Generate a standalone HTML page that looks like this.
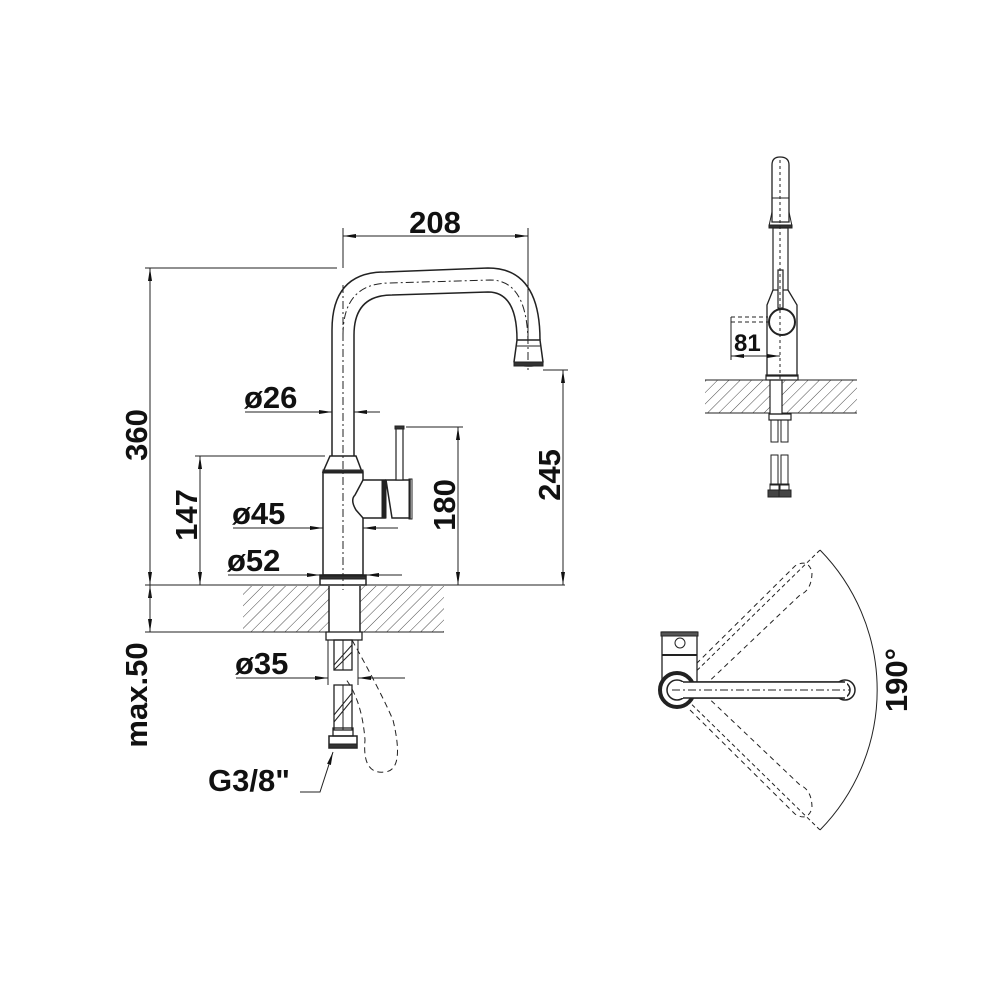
<!DOCTYPE html>
<html><head><meta charset="utf-8"><style>
html,body{margin:0;padding:0;background:#fff}
svg{display:block}
text{font-family:"Liberation Sans",sans-serif;font-weight:bold;fill:#111}
</style></head><body>
<svg width="1000" height="1000" viewBox="0 0 1000 1000" xmlns="http://www.w3.org/2000/svg">
<defs>
<pattern id="h" patternUnits="userSpaceOnUse" width="8" height="8" patternTransform="rotate(45)">
<line x1="0" y1="0" x2="0" y2="8" stroke="#333" stroke-width="0.9"/>
</pattern>
<marker id="a" viewBox="0 0 10 10" refX="10" refY="5" markerWidth="13" markerHeight="5" orient="auto-start-reverse" markerUnits="userSpaceOnUse" preserveAspectRatio="none"><path d="M0,1 L10,5 L0,9z" fill="#111"/></marker>
</defs>
<g stroke="#222" stroke-width="1" fill="none">
<rect x="243" y="586" width="201" height="46" fill="url(#h)" stroke="none"/>
<rect x="329" y="585" width="31" height="48" fill="#fff" stroke="none"/>
<line x1="329" y1="586" x2="329" y2="632" stroke-width="1.5"/>
<line x1="360" y1="586" x2="360" y2="632" stroke-width="1.5"/>
<line x1="145" y1="585" x2="565" y2="585"/>
<line x1="145" y1="632" x2="243" y2="632"/>
<line x1="243" y1="632" x2="444" y2="632"/>
<path d="M332,456 V330 Q332,272 385,272 L488,268 Q540,268 540,340" stroke-width="1.5"/>
<path d="M354,456 V335 Q354,295 392,295 L488,292 Q517,292 517,340" stroke-width="1.5"/>
<path d="M343,285 V590 M343,335 Q343,283 390,283 L490,280 Q528,280 528,345 V370" stroke-dasharray="8,3,2,3"/>
<path d="M517,340 H540 L543,362 Q541,366 528,366 Q515,366 514,362 Z" stroke-width="1.5"/>
<line x1="517" y1="346" x2="540" y2="346"/>
<rect x="514" y="362" width="29" height="4" fill="#333"/>
<path d="M330,456 H356 L362,472 H323 Z" stroke-width="1.5"/>
<rect x="323" y="470" width="40" height="3" fill="#333"/>
<rect x="323" y="472" width="40" height="103" stroke-width="1.5"/>
<rect x="320" y="575" width="46" height="10" stroke-width="1.5"/>
<rect x="320" y="576" width="46" height="3" fill="#333"/>
<path d="M363,480 L355,495 Q350,500 356,510 L363,518 H385 V480 Z" fill="#fff" stroke-width="1.5"/>
<rect x="382" y="480" width="4" height="38" fill="#222"/>
<path d="M386,480 H410 V518 H392 Z" fill="#fff" stroke-width="1.5"/>
<rect x="409" y="479" width="3" height="40"/>
<rect x="396" y="427" width="7" height="53" fill="#fff" stroke-width="1.2"/>
<rect x="395" y="426" width="9" height="3" fill="#333"/>
<rect x="326" y="632" width="36" height="8" stroke-width="1.3"/>
<rect x="334" y="640" width="18" height="30" stroke-width="1.3"/>
<rect x="334" y="685" width="18" height="45" stroke-width="1.3"/>
<path d="M343,640 V670 M343,685 V730 M334,665 L352,645 M334,670 L352,652 M334,715 L352,693 M334,722 L352,700" />
<rect x="333" y="728" width="20" height="8" stroke-width="1.3"/>
<rect x="329" y="736" width="28" height="12" stroke-width="1.5"/>
<rect x="329" y="744" width="28" height="4" fill="#333"/>
<path d="M352,640 Q380,690 393,720 Q405,770 385,772 Q362,775 365,740 Q362,700 345,678" stroke-dasharray="6,4"/>
<line x1="343" y1="228" x2="343" y2="268"/>
<line x1="528" y1="228" x2="528" y2="340"/>
<line x1="343" y1="236" x2="528" y2="236" marker-start="url(#a)" marker-end="url(#a)"/>
<line x1="145" y1="268" x2="337" y2="268"/>
<line x1="150" y1="268" x2="150" y2="585" marker-start="url(#a)" marker-end="url(#a)"/>
<line x1="195" y1="456" x2="325" y2="456"/>
<line x1="200" y1="456" x2="200" y2="585" marker-start="url(#a)" marker-end="url(#a)"/>
<line x1="406" y1="427" x2="463" y2="427"/>
<line x1="458" y1="427" x2="458" y2="585" marker-start="url(#a)" marker-end="url(#a)"/>
<line x1="543" y1="370" x2="568" y2="370"/>
<line x1="563" y1="370" x2="563" y2="585" marker-start="url(#a)" marker-end="url(#a)"/>
<line x1="150" y1="632" x2="150" y2="585" marker-end="url(#a)"/>
<line x1="150" y1="585" x2="150" y2="632" marker-end="url(#a)"/>
<line x1="245" y1="412" x2="332" y2="412" marker-end="url(#a)"/>
<line x1="380" y1="412" x2="354" y2="412" marker-end="url(#a)"/>
<line x1="233" y1="528" x2="323" y2="528" marker-end="url(#a)"/>
<line x1="398" y1="528" x2="363" y2="528" marker-end="url(#a)"/>
<line x1="228" y1="575" x2="320" y2="575" marker-end="url(#a)"/>
<line x1="402" y1="575" x2="366" y2="575" marker-end="url(#a)"/>
<line x1="236" y1="678" x2="328" y2="678" marker-end="url(#a)"/>
<line x1="405" y1="678" x2="358" y2="678" marker-end="url(#a)"/>
<line x1="328" y1="640" x2="328" y2="685"/>
<line x1="358" y1="640" x2="358" y2="685"/>
<path d="M300,792 H320 L333,752" marker-end="url(#a)"/>
<rect x="705" y="380" width="152" height="33" fill="url(#h)" stroke="none"/>
<line x1="705" y1="380" x2="857" y2="380"/>
<line x1="705" y1="413" x2="857" y2="413"/>
<rect x="770" y="380" width="12" height="34" fill="#fff" stroke-width="1.2"/>
<path d="M772,222 V165 Q772,157 780,157 Q789,157 789,165 V222 Z" stroke-width="1.3"/>
<line x1="772" y1="198" x2="789" y2="198"/>
<path d="M772,212 L769,226 H792 L789,212"/>
<rect x="769" y="225" width="23" height="3" fill="#333"/>
<rect x="773" y="228" width="15" height="62" stroke-width="1.2"/>
<path d="M773,290 L767,305 V376 H797 V305 L788,290" stroke-width="1.3"/>
<rect x="766" y="375" width="32" height="5" stroke-width="1.2"/>
<rect x="778" y="270" width="5" height="38" fill="#fff" stroke-width="1.2"/>
<circle cx="782" cy="322" r="13" fill="#fff" stroke-width="2"/>
<line x1="780" y1="160" x2="780" y2="380" stroke-dasharray="3,3"/>
<path d="M731,317 H768 M731,322 H768" stroke-dasharray="4,3"/>
<line x1="731" y1="317" x2="731" y2="360"/>
<line x1="731" y1="356" x2="780" y2="356" marker-start="url(#a)" marker-end="url(#a)"/>
<rect x="769" y="414" width="22" height="6" stroke-width="1.2"/>
<rect x="771" y="420" width="7" height="22"/><rect x="781" y="420" width="7" height="22"/>
<rect x="771" y="455" width="7" height="30"/><rect x="781" y="455" width="7" height="30"/>
<rect x="770" y="484" width="9" height="6"/><rect x="780" y="484" width="9" height="6"/>
<rect x="768" y="490" width="12" height="7" fill="#444"/><rect x="779" y="490" width="12" height="7" fill="#444"/>
<path d="M820,550 A200,200 0 0 1 820,830"/>
<path d="M677,690 L820,550 M677,690 L820,830" stroke-dasharray="4,3"/>
<g stroke-dasharray="5,4">
<path d="M690,670 L795,566 Q808,558 812,572 Q812,590 800,595 L700,690"/>
<path d="M690,710 L795,814 Q808,822 812,808 Q812,790 800,785 L700,690"/>
</g>
<rect x="662" y="632" width="35" height="58" fill="#fff" stroke-width="1.3"/>
<rect x="661" y="632" width="37" height="4" fill="#555"/>
<line x1="662" y1="655" x2="697" y2="655" stroke-width="2"/>
<circle cx="680" cy="643" r="5"/>
<rect x="677" y="682" width="173" height="16" rx="8" fill="#fff" stroke-width="1.5"/>
<circle cx="845" cy="690" r="10" stroke-width="1.5"/>
<circle cx="677" cy="690" r="17" fill="#fff" stroke-width="4"/>
<circle cx="677" cy="690" r="10" fill="#fff" stroke-width="1.5"/>
<rect x="677" y="682" width="170" height="16" fill="#fff" stroke="none"/>
<path d="M683,682 H845 M683,698 H845" stroke-width="1.5"/>
<line x1="672" y1="690" x2="850" y2="690" stroke-dasharray="8,3,2,3"/>
</g>
<g font-size="31">
<text x="435" y="233" text-anchor="middle">208</text>
<text transform="translate(147,435) rotate(-90)" text-anchor="middle">360</text>
<text transform="translate(197,515) rotate(-90)" text-anchor="middle">147</text>
<text transform="translate(455,505) rotate(-90)" text-anchor="middle">180</text>
<text transform="translate(560,475) rotate(-90)" text-anchor="middle">245</text>
<text transform="translate(147,695) rotate(-90)" text-anchor="middle">max.50</text>
<text x="244" y="408">ø26</text>
<text x="232" y="524">ø45</text>
<text x="227" y="571">ø52</text>
<text x="235" y="674">ø35</text>
<text x="208" y="791">G3/8"</text>
<text transform="translate(907,680) rotate(-90)" text-anchor="middle">190°</text>
</g>
<text x="734" y="351" font-size="24">81</text>
</svg>
</body></html>
